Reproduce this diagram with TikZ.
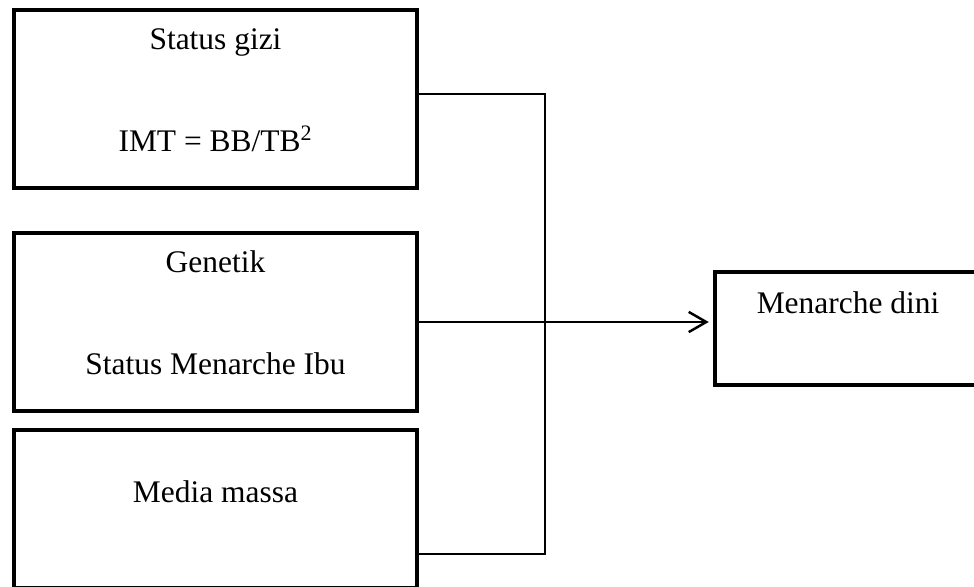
\documentclass[tikz,border=0pt]{standalone}
\usepackage{fontspec}
\setmainfont{Liberation Serif}
\usetikzlibrary{arrows.meta}

\tikzset{
	faktor/.style={draw, line width=2.55pt, minimum width=8.06cm, inner sep=0pt},
	teks/.style={anchor=base, inner sep=0pt, font=\fontsize{17.9}{20}\selectfont},
	garis/.style={line width=0.85pt},
	panah/.style={line width=1.4pt, shorten >=2.3pt, -{Straight Barb[length=10pt, width=11.5pt, line width=1.4pt]}}
}

\begin{document}
\begin{tikzpicture}[x=0.02cm, y=-0.02cm]
	
	\useasboundingbox (0,0) rectangle (974,587);
	
	\node [faktor, minimum height=3.56cm] (gizi) at (215.5,99) {};
	\node [teks] (gizia) at (215.5,50) {Status gizi};
	\node [teks] (gizib) at (215.5,152) {IMT = BB/TB\textsuperscript{2}};
	
	\node [faktor, minimum height=3.56cm] (genetik) at (215.5,322) {};
	\node [teks] (genetika) at (215.5,273) {Genetik};
	\node [teks] (genetikb) at (215.5,375) {Status Menarche Ibu};
	
	\node [faktor, minimum height=3.16cm] (media) at (215.5,509) {};
	\node [teks] (mediaa) at (215.5,502) {Media massa};
	
	\node [faktor, minimum width=5.7cm, minimum height=2.26cm] (dini) at (857.5,328.5) {};
	\node [teks] (dinia) at (848,314) {Menarche dini};
	
	% garis penghubung
	\coordinate (atas) at (545,94);
	\coordinate (tengah) at (545,322);
	\coordinate (bawah) at (545,554);
	
	\draw [garis] (gizi.east |- atas) -- (atas) -- (bawah) -- (media.east |- bawah);
	
	\draw [garis] (genetik.east |- tengah) -- (tengah);
	
	\draw [panah] (tengah) -- (dini.west |- tengah);
	
\end{tikzpicture}
\end{document}
